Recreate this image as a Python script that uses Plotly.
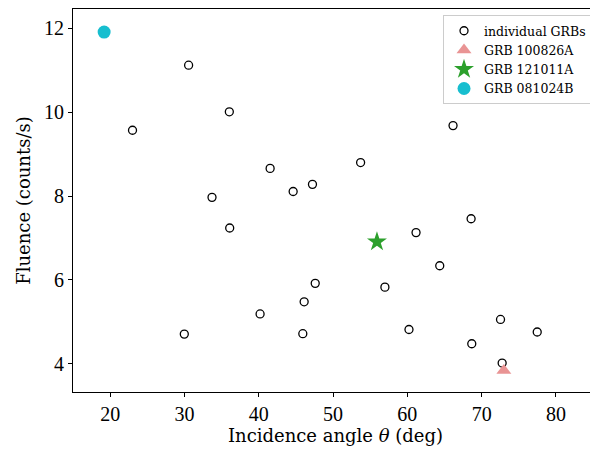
import plotly.graph_objects as go

# individual GRBs
ind_theta = [30.56, 23.01, 36.04, 66.15, 41.53, 53.71, 44.63, 47.23, 33.71, 36.09, 68.58, 61.17,
             64.36, 47.60, 56.98, 46.11, 40.18, 29.98, 45.93, 60.22, 72.54, 77.48, 68.67, 72.76]
ind_fluence = [11.12, 9.57, 10.01, 9.68, 8.66, 8.80, 8.11, 8.28, 7.97, 7.24, 7.46, 7.13,
               6.34, 5.92, 5.83, 5.48, 5.19, 4.71, 4.72, 4.82, 5.06, 4.76, 4.48, 4.02]

grb_a_theta = [72.99]
grb_a_fluence = [3.84]
grb_b_theta = [55.91]
grb_b_fluence = [6.91]
grb_c_theta = [19.19]
grb_c_fluence = [11.91]

x_ticks = [20, 30, 40, 50, 60, 70, 80]
y_ticks = [4, 6, 8, 10, 12]

FONT = "Liberation Serif, DejaVu Serif, serif"
TFONT = "DejaVu Serif, serif"

fig = go.Figure()
fig.add_trace(go.Scatter(x=ind_theta, y=ind_fluence, mode="markers", name="individual GRBs",
                         marker=dict(symbol="circle-open", size=8, color="black",
                                     line=dict(width=1.3, color="black"))))
fig.add_trace(go.Scatter(x=grb_a_theta, y=grb_a_fluence, mode="markers", name="GRB 100826A",
                         marker=dict(symbol="triangle-up", size=13, color="#e99494")))
fig.add_trace(go.Scatter(x=grb_b_theta, y=grb_b_fluence, mode="markers", name="GRB 121011A",
                         marker=dict(symbol="star", size=15, color="#2ca02c")))
fig.add_trace(go.Scatter(x=grb_c_theta, y=grb_c_fluence, mode="markers", name="GRB 081024B",
                         marker=dict(symbol="circle", size=13, color="#17becf")))

fig.update_layout(
    width=590, height=442,
    margin=dict(l=65, r=0, t=1, b=58),
    paper_bgcolor="white", plot_bgcolor="white",
    font=dict(family=FONT, color="black"),
    showlegend=True,
    legend=dict(x=0.9886, y=0.984, xanchor="right", yanchor="top",
                bgcolor="rgba(255,255,255,0.8)", bordercolor="#cccccc", borderwidth=1,
                font=dict(size=12.5, family=TFONT), itemsizing="trace",
                tracegroupgap=0),
    xaxis=dict(range=[15.0, 85.66], tickvals=x_ticks, ticks="outside", ticklen=4,
               tickcolor="black", showgrid=False, zeroline=False,
               showline=True, linecolor="black", linewidth=1, mirror=True,
               tickfont=dict(size=20),
               title=dict(text="Incidence angle <i>θ</i> (deg)", font=dict(size=18, family=TFONT), standoff=5)),
    yaxis=dict(range=[3.33, 12.46], tickvals=y_ticks, ticks="outside", ticklen=4,
               tickcolor="black", showgrid=False, zeroline=False,
               showline=True, linecolor="black", linewidth=1, mirror=False,
               tickfont=dict(size=20),
               title=dict(text="Fluence (counts/s)", font=dict(size=18, family=TFONT), standoff=8)),
)
fig.write_html("out.html")
